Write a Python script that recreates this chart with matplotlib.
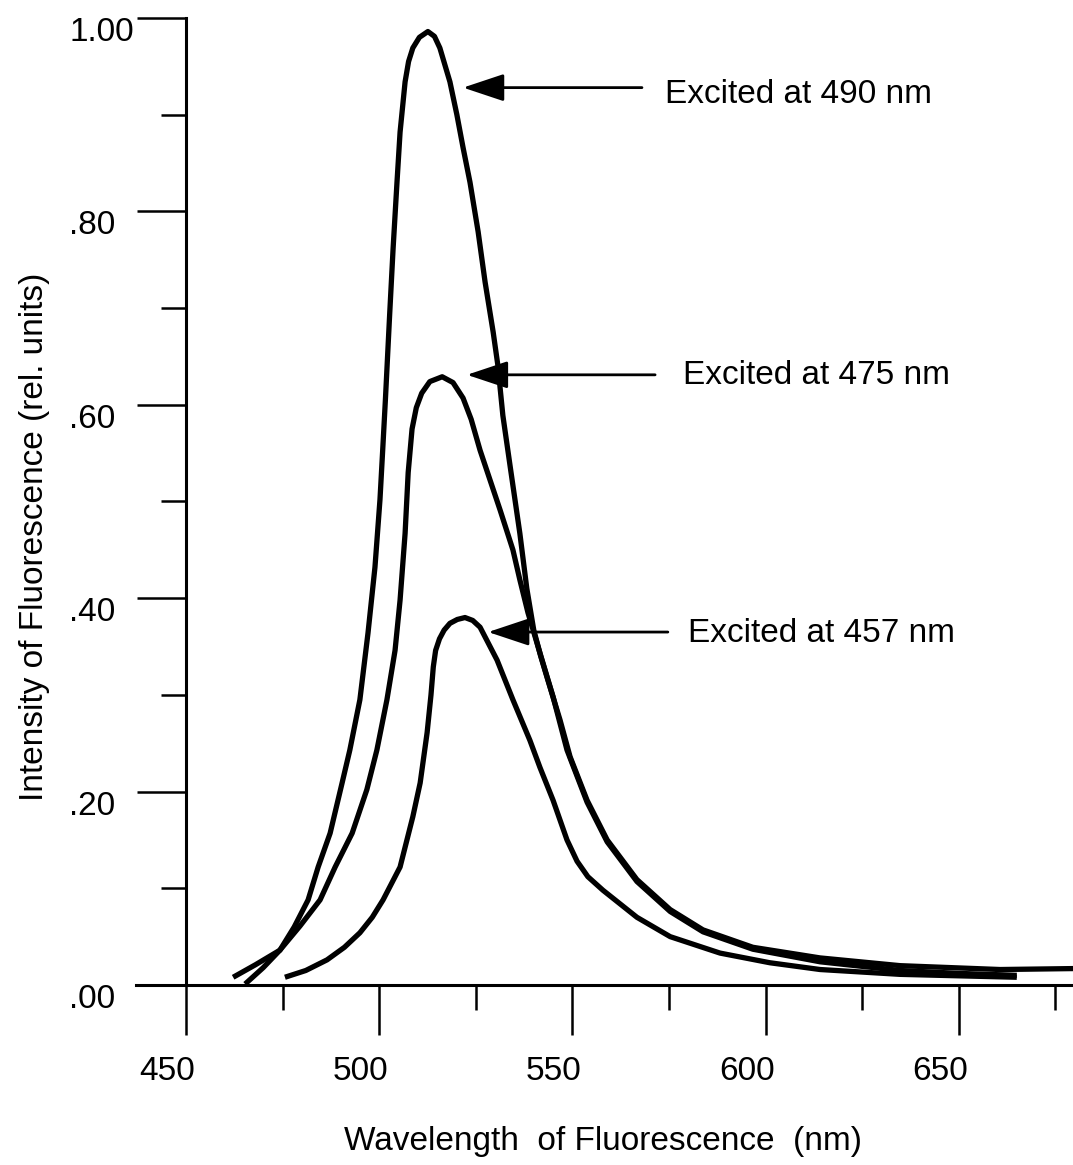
import numpy as np
import matplotlib.pyplot as plt
from matplotlib.transforms import ScaledTranslation

plt.rcParams['font.family'] = ['Liberation Sans', 'DejaVu Sans']

# emission spectra (wavelength nm, rel. intensity)
wl_490 = [465.3, 470.0, 474.3, 478.0, 481.6, 484.2, 487.3, 490.4, 492.4, 495.0, 497.1, 498.9,
          500.2, 500.9, 501.6, 502.7, 503.6, 504.6, 505.4, 506.7, 507.6, 508.7, 510.4, 512.6,
          514.3, 515.7, 518.3, 520.1, 521.7, 523.5, 525.6, 527.4, 529.5, 530.7, 532.0, 533.9,
          536.4, 538.2, 540.0, 541.8, 543.6, 546.8, 549.4, 553.8, 559.0, 566.7, 575.3, 583.8,
          596.7, 614.1, 634.8, 660.7, 680.0]
int_490 = [0.001, 0.018, 0.036, 0.060, 0.088, 0.122, 0.157, 0.209, 0.243, 0.295, 0.364, 0.432,
           0.502, 0.553, 0.605, 0.693, 0.762, 0.830, 0.882, 0.934, 0.955, 0.969, 0.980, 0.986,
           0.981, 0.969, 0.934, 0.900, 0.866, 0.830, 0.779, 0.727, 0.675, 0.641, 0.589, 0.536,
           0.467, 0.410, 0.367, 0.340, 0.316, 0.274, 0.236, 0.191, 0.150, 0.109, 0.078, 0.057,
           0.039, 0.028, 0.020, 0.016, 0.017]

wl_475 = [462.2, 468.0, 474.3, 479.5, 484.7, 488.6, 493.0, 496.8, 499.4, 502.0, 504.1, 505.4,
          506.7, 507.5, 508.5, 509.6, 511.0, 513.1, 516.3, 519.1, 521.7, 523.8, 526.1, 531.3,
          534.6, 536.4, 538.5, 541.1, 545.0, 548.6, 553.8, 559.0, 566.7, 575.3, 583.8, 596.7,
          614.1, 634.8, 650.0, 665.0]
int_475 = [0.008, 0.021, 0.036, 0.061, 0.088, 0.122, 0.157, 0.202, 0.243, 0.295, 0.346, 0.398,
           0.467, 0.530, 0.575, 0.597, 0.612, 0.624, 0.629, 0.623, 0.607, 0.585, 0.553, 0.491,
           0.450, 0.419, 0.385, 0.350, 0.298, 0.243, 0.189, 0.148, 0.107, 0.076, 0.055, 0.037,
           0.024, 0.015, 0.012, 0.010]

wl_457 = [475.6, 481.0, 486.5, 491.0, 495.0, 498.2, 501.0, 505.4, 508.7, 510.6, 512.4, 513.4,
          514.0, 514.6, 515.6, 516.8, 518.3, 520.2, 522.2, 524.2, 526.1, 530.5, 534.6, 539.0,
          541.6, 545.0, 548.6, 551.2, 554.0, 557.9, 566.7, 575.3, 588.2, 601.1, 614.1, 634.8,
          665.0]
int_457 = [0.008, 0.015, 0.026, 0.039, 0.054, 0.070, 0.088, 0.122, 0.174, 0.209, 0.261, 0.300,
           0.329, 0.346, 0.358, 0.367, 0.374, 0.378, 0.380, 0.377, 0.370, 0.336, 0.295, 0.253,
           0.225, 0.191, 0.150, 0.128, 0.112, 0.098, 0.070, 0.050, 0.033, 0.023, 0.016, 0.011,
           0.008]

labels = ["Excited at 490 nm", "Excited at 475 nm", "Excited at 457 nm"]
arrow_tip = [(521.7, 0.928), (522.7, 0.631), (528.2, 0.365)]
arrow_tail = [568.0, 571.4, 574.7]
label_pos = [(574.0, 0.921), (578.6, 0.630), (579.9, 0.363)]

x_major = [450, 500, 550, 600, 650]
x_minor = [475, 525, 575, 625, 675]
y_major = [0.0, 0.2, 0.4, 0.6, 0.8, 1.0]
y_minor = [0.1, 0.3, 0.5, 0.7, 0.9]
y_ticklabels = [".00", ".20", ".40", ".60", ".80", "1.00"]

fig = plt.figure(figsize=(10.73, 11.65), dpi=100)
ax = fig.add_axes([0.12675, 0.15451, 0.87325, 0.83004])

for wl, inten in [(wl_490, int_490), (wl_475, int_475), (wl_457, int_457)]:
    ax.plot(wl, inten, color='black', lw=3.8, solid_capstyle='butt', solid_joinstyle='round')

ax.set_xlim(437.06, 679.55)
ax.set_ylim(0, 1.0)

ax.spines['top'].set_visible(False)
ax.spines['right'].set_visible(False)
ax.spines['left'].set_position(('data', 450))
ax.spines['left'].set_linewidth(2.2)
ax.spines['bottom'].set_linewidth(2.2)

ax.set_xticks(x_major)
ax.set_xticks(x_minor, minor=True)
ax.set_yticks(y_major, y_ticklabels)
ax.set_yticks(y_minor, minor=True)

ax.tick_params(axis='x', which='major', direction='out', length=36, width=1.8, pad=15, labelsize=24)
ax.tick_params(axis='x', which='minor', direction='out', length=18, width=1.8)
ax.tick_params(axis='y', which='major', direction='out', length=35, width=1.8, pad=49, labelsize=24)
ax.tick_params(axis='y', which='minor', direction='out', length=18, width=1.8)

dx = ScaledTranslation(-19 / 100, 0, fig.dpi_scale_trans)
for lab in ax.get_xticklabels():
    lab.set_transform(lab.get_transform() + dx)
dy = ScaledTranslation(0, -11 / 100, fig.dpi_scale_trans)
for lab in ax.get_yticklabels():
    lab.set_horizontalalignment('left')
    lab.set_transform(lab.get_transform() + dy)

for tip, tail, pos, txt in zip(arrow_tip, arrow_tail, label_pos, labels):
    ax.annotate('', xy=tip, xytext=(tail, tip[1]),
                arrowprops=dict(arrowstyle='-|>,head_length=1.5,head_width=0.5', mutation_scale=17,
                                color='black', lw=2.0, shrinkA=0, shrinkB=0))
    ax.text(pos[0], pos[1], txt, fontsize=24, ha='left', va='center')

ax.set_xlabel("Wavelength  of Fluorescence  (nm)", fontsize=24, va='center')
ax.xaxis.set_label_coords(0.498, -0.162)
ax.set_ylabel("Intensity of Fluorescence (rel. units)", fontsize=24, va='center', ha='center')
ax.yaxis.set_label_coords(-0.108, 0.463)

fig.savefig("out.png", dpi=100)
